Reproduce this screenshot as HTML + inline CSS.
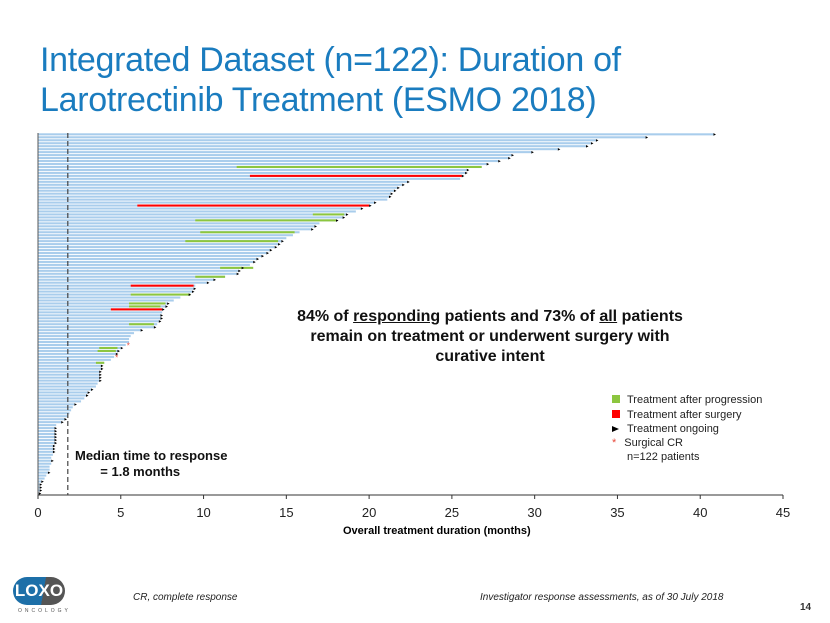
<!DOCTYPE html>
<html><head><meta charset="utf-8"><style>
body{margin:0;width:830px;height:623px;background:#fff;overflow:hidden;font-family:"Liberation Sans",sans-serif;position:relative}
.t{position:absolute}
</style></head><body>
<div class="t" style="left:40px;top:40px;font-size:34px;line-height:40px;color:#1a7cbf;letter-spacing:-0.3px">Integrated Dataset (n=122): Duration of<br>Larotrectinib Treatment (ESMO 2018)</div>
<svg id="chart" width="830" height="623" style="position:absolute;left:0;top:0"></svg>
<div class="t" style="left:265px;top:307px;width:450px;text-align:center;font-weight:bold;font-size:16px;line-height:20px;color:#111">84% of <u>responding</u> patients and 73% of <u>all</u> patients<br>remain on treatment or underwent surgery with<br>curative intent</div>
<div class="t" style="left:75px;top:448px;font-weight:bold;font-size:13px;line-height:16px;color:#111">Median time to response<br>&nbsp;&nbsp;&nbsp;&nbsp;&nbsp;&nbsp;&nbsp;= 1.8 months</div>
<div class="t" style="left:612px;top:393px;font-size:11px;line-height:14px;color:#222">
<div><span style="display:inline-block;width:8px;height:8px;background:#8cc63f;margin-right:7px"></span>Treatment after progression</div>
<div style="margin-top:1px"><span style="display:inline-block;width:8px;height:8px;background:#f00;margin-right:7px"></span>Treatment after surgery</div>
<div><span style="display:inline-block;width:0;height:0;border-left:7px solid #000;border-top:3px solid transparent;border-bottom:3px solid transparent;margin-right:8px"></span>Treatment ongoing</div>
<div><span style="color:#e84a3c;margin-right:8px">*</span>Surgical CR</div>
<div style="padding-left:15px">n=122 patients</div>
</div>
<div class="t" style="left:343px;top:525px;font-weight:bold;font-size:11px">Overall treatment duration (months)</div>
<div class="t" style="left:13px;top:577px;width:52px;height:28px;border-radius:14px;background:linear-gradient(100deg,#1d6fa8 58%,#555 58%);color:#fff;font-weight:bold;font-size:17px;text-align:center;line-height:28px">LOXO</div>
<div class="t" style="left:18px;top:608px;font-size:5px;letter-spacing:3px;color:#555">ONCOLOGY</div>
<div class="t" style="left:133px;top:592px;font-size:10px;font-style:italic;color:#222">CR, complete response</div>
<div class="t" style="left:480px;top:592px;font-size:10px;font-style:italic;color:#222">Investigator response assessments, as of 30 July 2018</div>
<div class="t" style="left:800px;top:602px;font-size:10px;font-weight:bold;color:#333">14</div>
<script>
const durations=[40.8,36.7,33.7,33.4,33.1,31.4,29.8,28.6,28.4,27.8,
27.1,26.8,25.9,25.8,25.6,25.5,22.3,22.0,21.7,21.5,
21.3,21.2,21.1,20.3,20.0,19.5,19.2,18.6,18.4,18.0,
17.0,16.7,16.5,15.8,15.4,15.0,14.7,14.5,14.3,14.0,
13.8,13.5,13.2,13.0,12.8,12.3,12.1,12.0,11.3,10.6,
10.2,9.5,9.4,9.3,9.1,8.6,8.2,7.8,7.7,7.5,
7.5,7.4,7.4,7.3,7.2,7.0,6.2,5.8,5.6,5.5,
5.5,5.3,5.0,4.8,4.7,4.6,4.4,4.0,3.8,3.8,
3.7,3.7,3.7,3.7,3.6,3.5,3.2,3.0,2.9,2.8,
2.6,2.2,2.1,2.0,1.9,1.8,1.6,1.4,1.1,1.0,
1.0,1.0,1.0,1.0,1.0,0.9,0.9,0.9,0.9,0.8,
0.8,0.8,0.7,0.7,0.6,0.5,0.4,0.2,0.1,0.1,0.1,0.05];
const greenRows=[11,27,29,33,36,45,48,54,57,58,64,72,73,77];
const greenStart=[12.0,16.6,9.5,9.8,8.9,11.0,9.5,5.6,5.5,5.5,5.5,3.7,3.6,3.5];
const greenEnd=[26.8,18.5,18.0,15.5,14.5,13.0,11.3,9.2,7.7,7.4,7.0,4.8,4.7,4.0];
const redRows=[14,24,51,59];
const redStart=[12.8,6.0,5.6,4.4];
const redEnd=[25.6,20.0,9.4,7.5];
const ongoingRows=[0,1,2,3,4,5,6,7,8,9,10,12,13,14,16,17,18,19,20,21,23,24,25,27,28,29,31,32,36,37,38,39,40,41,42,43,45,46,47,49,50,52,53,54,57,58,59,61,62,63,65,66,72,73,74,78,79,80,81,82,83,86,87,88,91,96,97,99,100,101,102,103,104,105,106,107,110,114,117,118,119,120,121];
const crRows=[71,75];
const xTicks=[0,5,10,15,20,25,30,35,40,45];
const NS="http://www.w3.org/2000/svg",svg=document.getElementById('chart');
const x0=38,x1=783,yTop=133,yBot=495,rowH=(yBot-yTop)/durations.length;
const X=v=>x0+(v/45)*(x1-x0), Y=i=>yTop+i*rowH;
function mk(t,a){const e=document.createElementNS(NS,t);for(const k in a)e.setAttribute(k,a[k]);svg.appendChild(e);return e;}
durations.forEach((d,i)=>{const r=mk('rect',{x:x0,y:Y(i)+0.3,width:X(d)-x0,height:rowH-0.9,fill:'#a9cdec'});

});
greenRows.forEach((r,k)=>{const e=mk('rect',{x:X(greenStart[k]),y:Y(r)+0.3,width:X(greenEnd[k])-X(greenStart[k]),height:rowH-0.9,fill:'#8cc63f'});

});
redRows.forEach((r,k)=>{const e=mk('rect',{x:X(redStart[k]),y:Y(r)+0.3,width:X(redEnd[k])-X(redStart[k]),height:rowH-0.9,fill:'#ff0000'});

});
ongoingRows.forEach(r=>{const xe=X(durations[r]),yc=Y(r)+rowH/2;const e=mk('polygon',{points:`${xe},${yc-1.3} ${xe+2.5},${yc} ${xe},${yc+1.3}`,fill:'#000'});

});
crRows.forEach(r=>{const e=mk('text',{x:X(durations[r])+1,y:Y(r)+5,fill:'#e84a3c','font-size':8,'font-family':'Liberation Sans'});e.textContent='*';

});
const ya=mk('line',{x1:x0,y1:yTop,x2:x0,y2:yBot,stroke:'#555','stroke-width':1});


const xa=mk('line',{x1:x0,y1:yBot,x2:x1,y2:yBot,stroke:'#333','stroke-width':1});


const md=mk('line',{x1:X(1.8),y1:yTop,x2:X(1.8),y2:yBot,stroke:'#444','stroke-width':1.2,'stroke-dasharray':'5,3'});


xTicks.forEach(v=>{const tk=mk('line',{x1:X(v),y1:yBot,x2:X(v),y2:yBot+4,stroke:'#333'});


const t=mk('text',{x:X(v),y:yBot+22,'text-anchor':'middle','font-size':13,'font-family':'Liberation Sans',fill:'#222'});t.textContent=v;

});
</script>
</body></html>
